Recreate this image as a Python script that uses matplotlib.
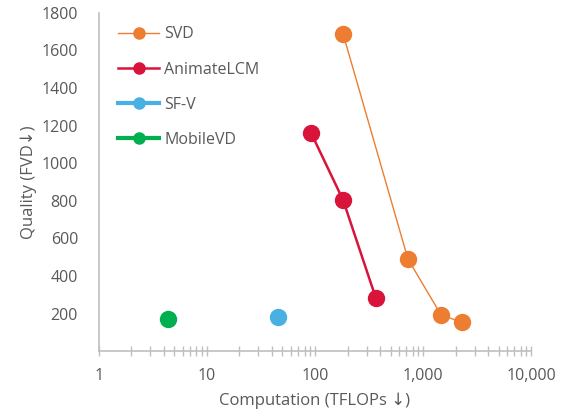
import matplotlib
matplotlib.use("Agg")
import matplotlib.pyplot as plt
from matplotlib.lines import Line2D
from matplotlib.ticker import LogLocator, FixedLocator, FuncFormatter, NullFormatter

plt.rcParams['font.family'] = ['Open Sans', 'DejaVu Sans']

svd_x = [182, 725, 1470, 2290]
svd_y = [1688, 490, 192, 154]
lcm_x = [92, 182, 366]
lcm_y = [1161, 804, 282]
sfv_x = [45.5]
sfv_y = [181]
mvd_x = [4.35]
mvd_y = [170]

x_ticks = [1, 10, 100, 1000, 10000]
x_tick_labels = ["1", "10", "100", "1,000", "10,000"]
y_ticks = [200, 400, 600, 800, 1000, 1200, 1400, 1600, 1800]

c_svd = "#ED7D31"
c_lcm = "#D9143A"
c_sfv = "#48B0E2"
c_mvd = "#00B050"
gray = "#595959"
axc = "#BFBFBF"

fig = plt.figure(figsize=(5.65, 4.16), dpi=100)
ax = fig.add_axes([0.175, 0.156, 0.765, 0.813])

ax.plot(svd_x, svd_y, color=c_svd, lw=1.0, marker="o", ms=11.5, mec=c_svd, zorder=3)
ax.plot(lcm_x, lcm_y, color=c_lcm, lw=1.8, marker="o", ms=11.5, mec=c_lcm, zorder=3)
ax.plot(sfv_x, sfv_y, color=c_sfv, lw=2.5, marker="o", ms=11.5, mec=c_sfv, zorder=3)
ax.plot(mvd_x, mvd_y, color=c_mvd, lw=2.5, marker="o", ms=11.5, mec=c_mvd, zorder=3)

ax.set_xscale("log")
ax.set_xlim(1, 10000)
ax.set_ylim(0, 1800)
ax.xaxis.set_major_locator(FixedLocator(x_ticks))
ax.xaxis.set_major_formatter(FuncFormatter(lambda v, p: x_tick_labels[x_ticks.index(v)] if v in x_ticks else ""))
ax.xaxis.set_minor_locator(LogLocator(base=10, subs=range(2, 10)))
ax.xaxis.set_minor_formatter(NullFormatter())
ax.set_yticks(y_ticks)

for s in ["top", "right"]:
    ax.spines[s].set_visible(False)
for s in ["left", "bottom"]:
    ax.spines[s].set_color(axc)
    ax.spines[s].set_linewidth(1.2)

ax.tick_params(axis="x", which="both", direction="inout", length=7, width=1.0, color=axc,
               labelsize=11.5, labelcolor=gray, pad=9)
ax.tick_params(axis="y", which="both", length=0, labelsize=11.5, labelcolor=gray, pad=15)

ax.set_xlabel("Computation (TFLOPs \u2193)", fontsize=12, color=gray, labelpad=6)
ax.set_ylabel("Quality (FVD\u2193)", fontsize=12, color=gray, labelpad=3)

handles = [
    Line2D([], [], color=c_svd, lw=1.0, marker="o", ms=8),
    Line2D([], [], color=c_lcm, lw=1.8, marker="o", ms=8),
    Line2D([], [], color=c_sfv, lw=3.0, marker="o", ms=8),
    Line2D([], [], color=c_mvd, lw=3.0, marker="o", ms=8),
]
leg = ax.legend(handles, ["SVD", "AnimateLCM", "SF-V", "MobileVD"], loc="upper left",
                bbox_to_anchor=(0.018, 0.993), frameon=False, fontsize=11.5,
                labelspacing=1.2, handlelength=2.6, handletextpad=0.3, borderaxespad=0.3)
for t in leg.get_texts():
    t.set_color(gray)

fig.savefig("out.png", dpi=100)
